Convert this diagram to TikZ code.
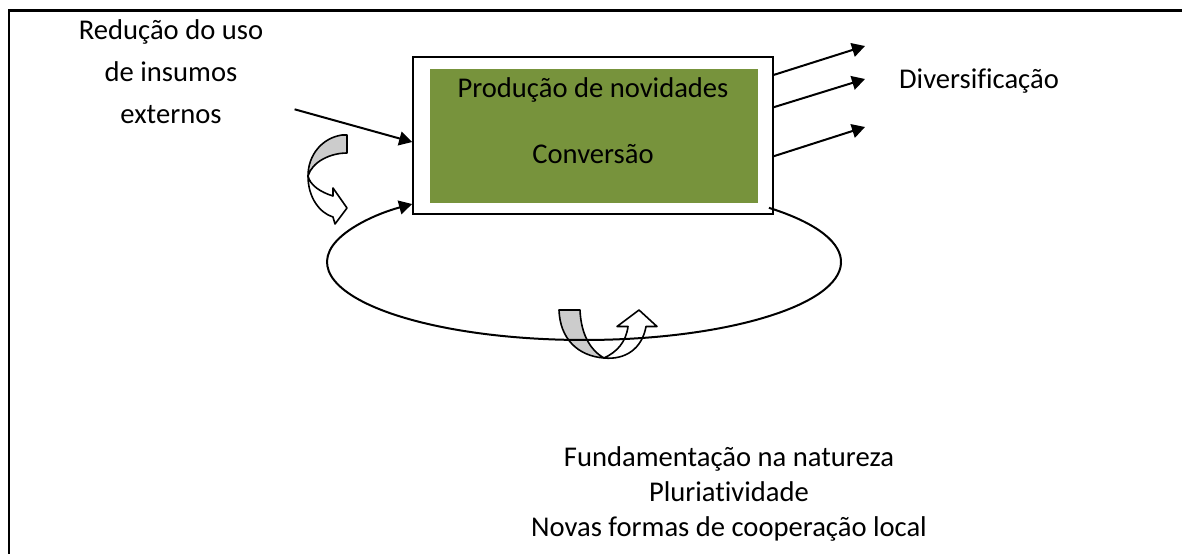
\documentclass[tikz,border=0pt]{standalone}
\usepackage{fontspec}
\setmainfont{Carlito}[Ligatures=NoCommon]
\usetikzlibrary{arrows.meta}
\definecolor{olivegreen}{RGB}{119,147,60}

\begin{document}
\begin{tikzpicture}[x=0.5pt,y=0.5pt,
  lbl/.style={font=\fontsize{14.3}{17.5}\selectfont,inner sep=0pt},
  arr/.style={line width=1pt,-{Triangle[length=6.5pt,width=7pt]}},
  bent/.style={line width=0.8pt,line join=round}]
\useasboundingbox (0,0) rectangle (1182,554);
\draw[line width=1.2pt] (1182,543.5) -- (9,543.5) -- (9,0);

\node[draw,line width=0.8pt,minimum width=180pt,minimum height=78.5pt,inner sep=0pt] (outer) at (593,418.5) {};
\node[fill=olivegreen,minimum width=164pt,minimum height=67pt,inner sep=0pt] (inner) at (594,418) {};
\node[lbl,anchor=base] (prod) at (593,457) {Produção de novidades};
\node[lbl,anchor=base] (conv) at (593,391) {Conversão};

\node[lbl,anchor=base] (div) at (979,466) {Diversificação};
\node[lbl,align=center,anchor=base] (reduc) at (171,431) {Redução do uso\\[3.5pt]de insumos\\[3.5pt]externos};
\node[lbl,align=center,anchor=base] (fund) at (729,18) {Fundamentação na natureza\\Pluriatividade\\Novas formas de cooperação local};

\coordinate (inStart) at (294.6,444.7);
\draw[arr] (inStart) -- ([yshift=-3.25pt]outer.west);

\coordinate (d1) at (865,508);
\coordinate (d2) at (865,475);
\coordinate (d3) at (865,427);
\draw[arr] ([yshift=-9.35pt]outer.north east) -- (d1);
\draw[arr] ([yshift=-25.5pt]outer.north east) -- (d2);
\draw[arr] ([yshift=-50pt]outer.north east) -- (d3);

\draw[bent,fill=black!20] (342,419) -- (347,419) -- (347,401)
  .. controls (330,401) and (312,392) .. (308,378)
  .. controls (308,399) and (322,416) .. (342,419) -- cycle;
\draw[bent,fill=white] (308,378) .. controls (308,356) and (320,341) .. (333,337)
  -- (335,330) -- (347,346) -- (333,366) -- (333,358)
  .. controls (320,362) and (310,369) .. (308,378) -- cycle;

\draw[bent,fill=black!20] (559,244) -- (580,244)
  .. controls (581,220) and (590,204) .. (604,196)
  .. controls (578,198) and (560,215) .. (559,244) -- cycle;
\draw[bent,fill=white] (604,196) .. controls (625,194) and (642,205) .. (646,227.5)
  -- (657,227.5) -- (639,244) -- (617,227.5) -- (628,227.5)
  .. controls (626,212) and (617,202) .. (604,196) -- cycle;

\coordinate (loopStart) at (768.9,346.2);
\draw[arr] (loopStart) arc[start angle=44,end angle=-228,x radius=128.5pt,y radius=39pt];
\end{tikzpicture}
\end{document}
